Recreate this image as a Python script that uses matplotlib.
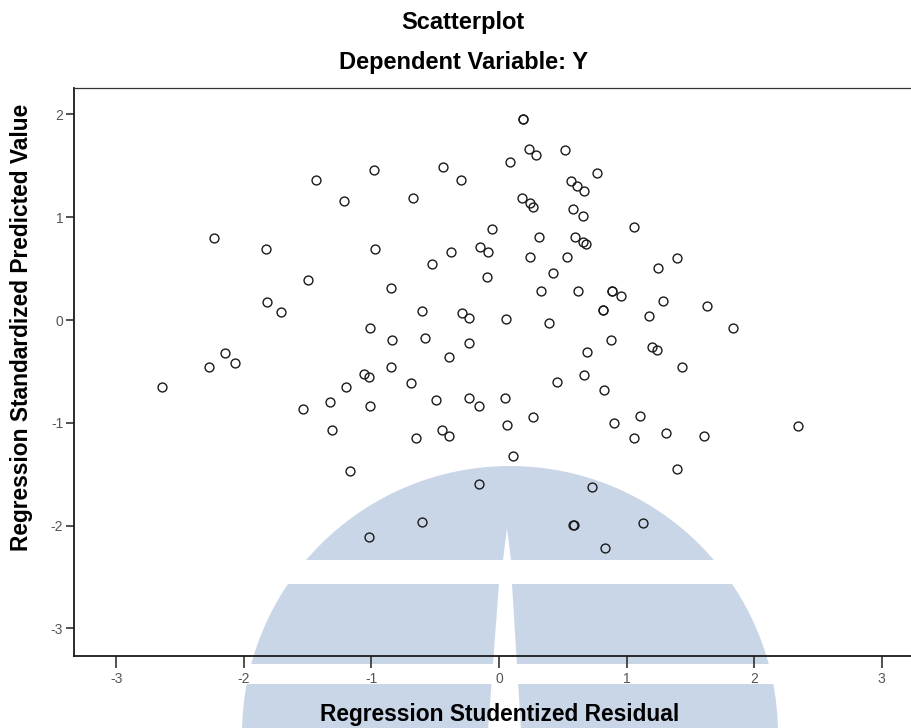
# SPSS-style residual scatterplot with a pale watermark behind it

from matplotlib import rcParams
from matplotlib.pyplot import figure, close
from matplotlib.patches import Ellipse, Rectangle, Polygon

rcParams['font.family'] = ['Liberation Sans', 'DejaVu Sans']

## data : studentized residual (x) and standardized predicted value (y)
x_resid = [
	-1.437, -0.980, -0.437, -0.295, -1.215, -0.674, -0.055, -2.234, -1.828, -0.974,
	-0.379, -0.149, -0.086, -0.527, -0.094, -1.494, -0.849, -1.816, -1.711, -0.601,
	-0.292, -0.235, -1.011, -0.836, -0.582, -0.239,
	0.190, 0.192, 0.235, 0.290, 0.517, 0.086, 0.766, 0.562, 0.614, 0.668,
	0.183, 0.243, 0.264, 0.578, 0.661, 1.058, 0.313, 0.596, 0.656, 0.682,
	0.243, 0.531, 1.393, 1.248, 0.421, 0.327, 0.617, 0.883, 0.885, 0.956,
	1.288, 1.628, 0.817, 0.819, 0.055, 0.392, 1.178, 1.836, 0.874,
	-2.147, -2.067, -2.273, -2.643, -0.392, -0.849, -1.058, -1.021, -0.692, -1.201,
	-1.324, -1.013, -1.536, -0.494, -0.235, -0.154, -1.306, -0.653, -0.449, -0.392,
	-1.168, -0.157, -0.606, -1.021,
	0.690, 1.201, 1.241, 1.432, 0.452, 0.664, 0.821, 0.047, 0.269, 0.063,
	0.904, 1.103, 1.060, 1.306, 1.607, 2.343, 0.110, 1.395, 0.731, 0.582,
	0.584, 1.126, 0.833,
]
y_pred = [
	1.362, 1.459, 1.485, 1.359, 1.161, 1.187, 0.885, 0.801, 0.694, 0.688,
	0.661, 0.713, 0.661, 0.542, 0.418, 0.392, 0.314, 0.172, 0.075, 0.088,
	0.071, 0.017, -0.078, -0.195, -0.170, -0.224,
	1.955, 1.957, 1.661, 1.605, 1.654, 1.534, 1.433, 1.355, 1.304, 1.258,
	1.184, 1.135, 1.102, 1.083, 1.012, 0.908, 0.810, 0.810, 0.762, 0.736,
	0.616, 0.616, 0.606, 0.503, 0.454, 0.285, 0.285, 0.285, 0.283, 0.233,
	0.182, 0.136, 0.097, 0.095, 0.010, -0.032, 0.039, -0.078, -0.195,
	-0.318, -0.421, -0.454, -0.652, -0.357, -0.460, -0.528, -0.557, -0.610, -0.652,
	-0.801, -0.834, -0.869, -0.778, -0.756, -0.834, -1.070, -1.145, -1.070, -1.125,
	-1.466, -1.592, -1.965, -2.114,
	-0.311, -0.260, -0.292, -0.460, -0.606, -0.538, -0.684, -0.756, -0.947, -1.018,
	-1.002, -0.934, -1.151, -1.099, -1.125, -1.031, -1.320, -1.452, -1.624, -1.994,
	-1.992, -1.972, -2.221,
]
ticks = [-3, -2, -1, 0, 1, 2, 3]

## parameter
W, H = 912, 728
fx = lambda _px: _px/W
fy = lambda _py: 1.-_py/H
wm_col = '#c9d6e8'

## figure
fig = figure(figsize=(W/100., H/100.), dpi=100.)

## watermark (figure pixel layout)
fig.add_artist(Ellipse((fx(510), fy(734)), 2*268/W, 2*268/H, transform=fig.transFigure,
	fc=wm_col, ec='none', zorder=-3))
for _y0, _y1 in [(560, 584), (664, 684)]:
	fig.add_artist(Rectangle((0, fy(_y1)), 1, (_y1-_y0)/H, transform=fig.transFigure,
		fc='white', ec='none', zorder=-2))
fig.add_artist(Polygon([(fx(507), fy(528)), (fx(503), fy(560)), (fx(511), fy(560))],
	transform=fig.transFigure, fc='white', ec='none', zorder=-2))
fig.add_artist(Polygon([(fx(499), fy(584)), (fx(512), fy(584)), (fx(521), fy(730)), (fx(488), fy(730))],
	transform=fig.transFigure, fc='white', ec='none', zorder=-2))

## axes
ax = fig.add_axes([fx(74), fy(656), (W-74)/W, (656-88)/H])
ax.set_facecolor('none')

ax.plot(x_resid, y_pred, ls='none', marker='o', ms=6.4, mfc='none', mec='#1a1a1a', mew=1.0, zorder=3)

ax.set(xlim=(-3.331, 3.237), ylim=(-3.268, 2.257))
ax.set_xticks(ticks)
ax.set_yticks(ticks[:-1])
ax.set_xticklabels([f'{_t}' for _t in ticks], fontsize=10, color='#555555')
ax.set_yticklabels([f'{_t}' for _t in ticks[:-1]], fontsize=10, color='#555555')
ax.tick_params(axis='x', direction='out', length=8.5, width=1.1, pad=3, color='#222222')
ax.tick_params(axis='y', direction='out', length=5.8, width=1.1, pad=2, color='#222222')

ax.spines['right'].set_visible(False)
for _s in ['left', 'bottom']:
	ax.spines[_s].set_linewidth(1.3)
	ax.spines[_s].set_color('#1a1a1a')
ax.spines['top'].set_linewidth(0.9)
ax.spines['top'].set_color('#333333')

## texts
fig.text(fx(463), fy(23), 'Scatterplot', ha='center', va='center', fontsize=17, fontweight='bold')
fig.text(fx(464), fy(63), 'Dependent Variable: Y', ha='center', va='center', fontsize=17, fontweight='bold')
fig.text(fx(500), fy(715), 'Regression Studentized Residual', ha='center', va='center',
	fontsize=16.4, fontweight='bold')
fig.text(fx(22), fy(327), 'Regression Standardized Predicted Value', ha='center', va='center',
	rotation=90, fontsize=16.4, fontweight='bold')

fig.savefig('out.png', dpi=100.)
close()
